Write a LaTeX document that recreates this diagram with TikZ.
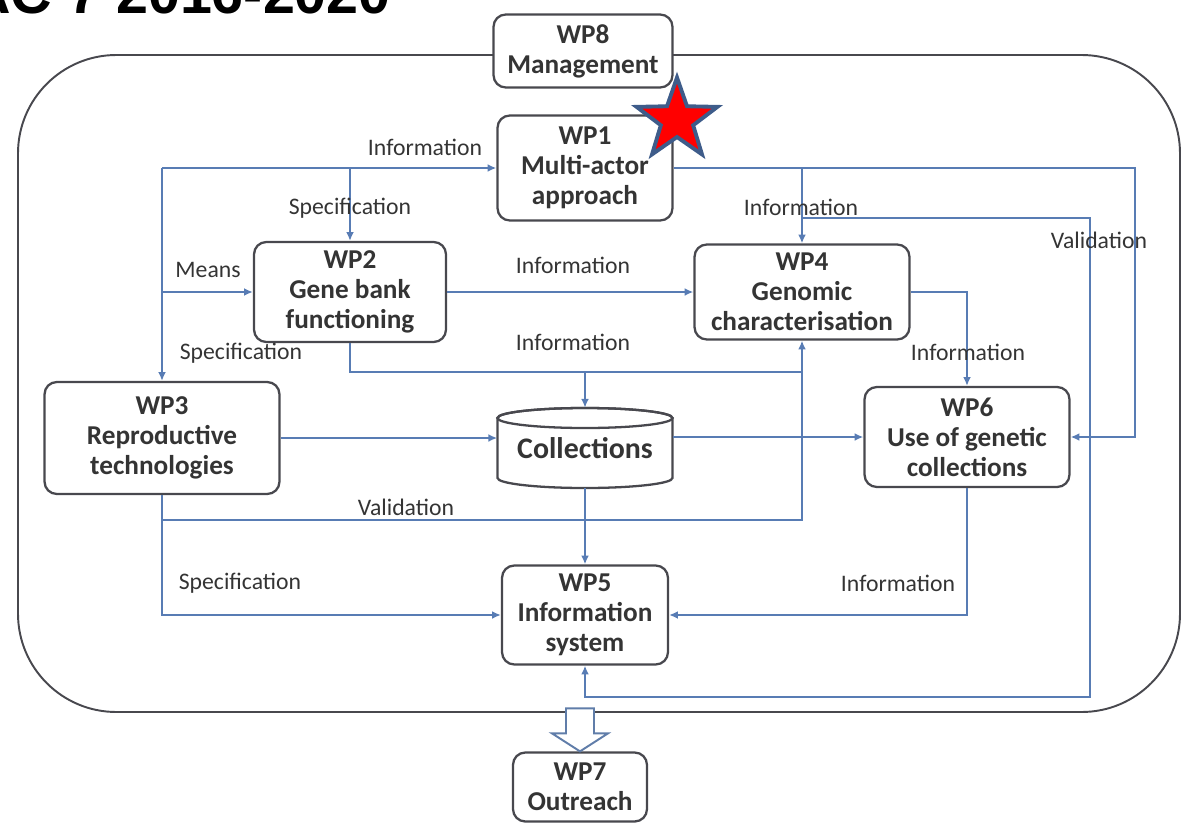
\documentclass[tikz,border=0pt]{standalone}
\usepackage{fontspec}
\setmainfont{Carlito}
\newfontfamily\titlefont{Liberation Sans}
\usetikzlibrary{arrows.meta,shapes.geometric}
\definecolor{flowblue}{RGB}{88,124,180}
\definecolor{boxgray}{RGB}{72,72,78}
\definecolor{txtgray}{RGB}{52,52,52}
\definecolor{starblue}{RGB}{62,92,138}

\begin{document}
\begin{tikzpicture}[x=0.02cm,y=-0.02cm,
    wp/.style={draw=boxgray,line width=1.3pt,rounded corners=7pt,fill=white,align=center,
      text=txtgray,font=\fontsize{15.5}{17}\selectfont\bfseries,inner sep=0pt},
    flow/.style={draw=flowblue,line width=1.3pt,-{Latex[length=5pt,width=4.5pt]}},
    link/.style={draw=flowblue,line width=1.3pt},
    lbl/.style={text=txtgray,font=\fontsize{13.5}{15}\selectfont,inner sep=1pt}]

    \clip (0,0) rectangle (1184,825);

    % title, cut at the top edge
    \node[anchor=base west,inner sep=0pt,font=\titlefont\fontsize{32.7}{36}\selectfont\bfseries] (title) at (-31,13) {AC 7 2016-2020};

    % frame round the work packages
    \draw[draw=boxgray,line width=1.1pt,rounded corners=56pt] (18,55) rectangle (1180,712);

    % collections cylinder
    \draw[draw=boxgray,line width=1.3pt,fill=white] (497.5,418) -- (497.5,478)
        arc[start angle=180,end angle=0,x radius=87.5,y radius=10] -- (672.5,418)
        arc[start angle=0,end angle=-180,x radius=87.5,y radius=10] -- cycle;
    \draw[draw=boxgray,line width=1.3pt] (585,418) ellipse[x radius=87.5,y radius=10];

    % work packages
    \node[wp,minimum width=3.58cm,minimum height=1.46cm] (wp8) at (583,51) {WP8\\Management};
    \node[wp,minimum width=3.5cm,minimum height=2.1cm] (wp1) at (585,168) {WP1\\Multi-actor\\approach};
    \node[wp,minimum width=3.84cm,minimum height=2cm] (wp2) at (350,292) {WP2\\Gene bank\\functioning};
    \node[wp,minimum width=4.3cm,minimum height=1.9cm] (wp4) at (802,292) {WP4\\Genomic\\characterisation};
    \node[wp,minimum width=4.7cm,minimum height=2.24cm] (wp3) at (162,438) {WP3\\Reproductive\\technologies};
    \node[wp,minimum width=4.1cm,minimum height=2cm] (wp6) at (967,437) {WP6\\Use of genetic\\collections};
    \node[wp,minimum width=3.32cm,minimum height=1.98cm] (wp5) at (585,615) {WP5\\Information\\system};
    \node[wp,minimum width=2.68cm,minimum height=1.38cm] (wp7) at (580,787) {WP7\\Outreach};
    \node[text=txtgray,font=\fontsize{17}{19}\selectfont\bfseries,minimum width=3.5cm,minimum height=1.6cm,inner sep=0pt] (coll) at (585,448) {Collections};

    % flows out of WP1
    \draw[flow] (wp1.east) -- (1135,168) |- (wp6.east);
    \draw[flow] (wp4.north |- wp1.east) -- (wp4.north);
    \draw[flow] (802,218) -- (1090,218) -- (1090,697) -| (wp5.south);

    % flows into WP1, WP2, WP3
    \draw[flow] (wp3.north |- wp1.west) -- (wp1.west);
    \draw[flow] (wp3.north |- wp1.west) -- (wp3.north);
    \draw[flow] (wp2.north |- wp1.west) -- (wp2.north);
    \draw[flow] (wp3.north |- wp2.west) -- (wp2.west);

    % flows out of WP2
    \draw[flow] (wp2.east) -- (wp4.west);
    \draw[link] (wp2.south) |- (802,372);
    \draw[flow] (coll.north |- 0,372) -- (coll.north);

    % flows out of WP3
    \draw[flow] (wp3.east) -- (wp3.east -| coll.west);
    \draw[flow] (wp3.south |- 0,520) -| (wp4.south);
    \draw[flow] (wp3.south) |- (wp5.west);

    % flows out of collections, WP4, WP6
    \draw[flow] (coll.east |- wp6.west) -- (wp6.west);
    \draw[flow] (coll.south) -- (wp5.north);
    \draw[flow] (wp4.east) -| (wp6.north);
    \draw[flow] (wp6.south) |- (wp5.east);

    % WP5 to WP7
    \draw[draw=flowblue!80!gray,line width=1.1pt,fill=white] (wp7.north) -- ++(-28,-18) -- ++(14,0)
        -- ++(0,-25) -- ++(28,0) -- ++(0,25) -- ++(14,0) -- cycle;

    % labels
    \node[lbl] (lbinfoa) at (425,147) {Information};
    \node[lbl] (lbspeca) at (350,208) {Specification};
    \node[lbl] (lbmeans) at (208,270) {Means};
    \node[lbl] (lbspecb) at (241,353) {Specification};
    \node[lbl] (lbinfob) at (573,265) {Information};
    \node[lbl] (lbinfoc) at (573,342) {Information};
    \node[lbl] (lbinfod) at (801,207) {Information};
    \node[lbl] (lbvalia) at (1099,240) {Validation};
    \node[lbl] (lbinfoe) at (968,352) {Information};
    \node[lbl] (lbvalib) at (406,507) {Validation};
    \node[lbl] (lbspecc) at (240,583) {Specification};
    \node[lbl] (lbinfof) at (898,583) {Information};

    % star
    \node[star,star points=5,star point ratio=2.5,fill=red,draw=starblue,line width=2.2pt,
      minimum size=1.7cm,inner sep=0pt] (mark) at (677,120) {};
\end{tikzpicture}
\end{document}
